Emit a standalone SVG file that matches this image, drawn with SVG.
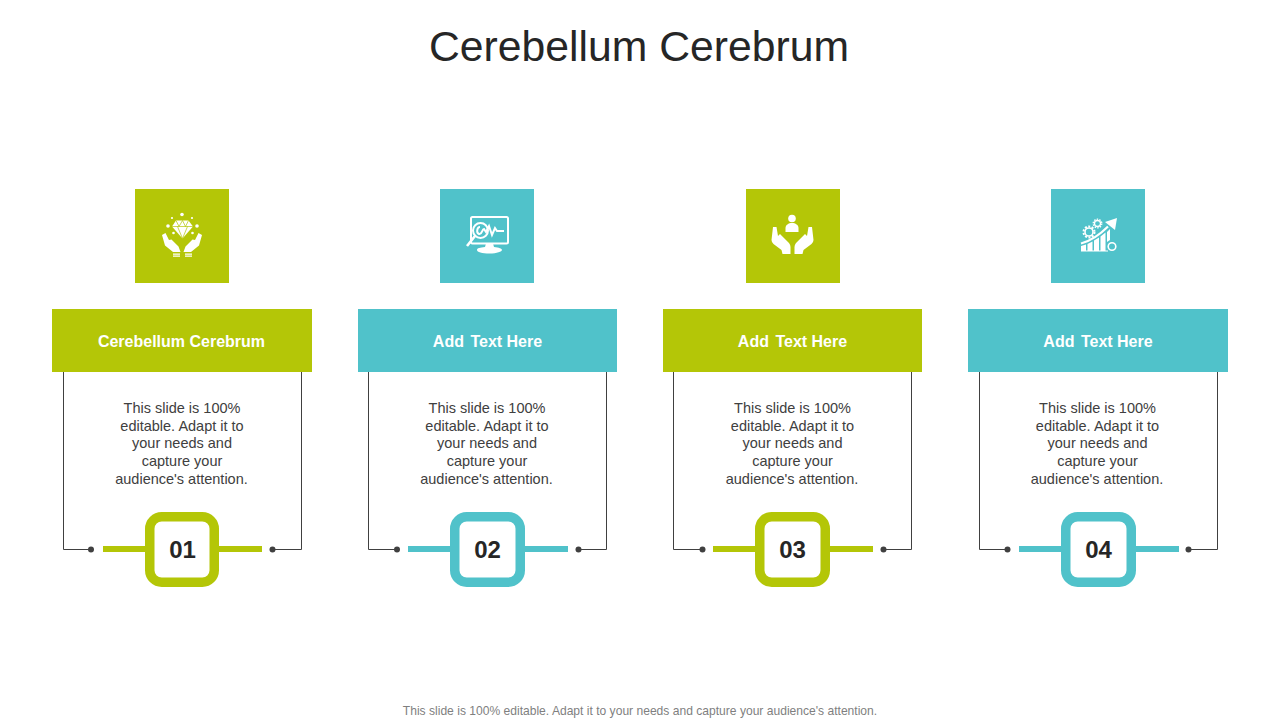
<svg xmlns="http://www.w3.org/2000/svg" width="1280" height="720" viewBox="0 0 1280 720">
<style>
text{font-family:"Liberation Sans",Arial,sans-serif;text-anchor:middle}
.title{font-size:42.7px;fill:#262626}
.head{font-size:16px;font-weight:700;fill:#fff}
.body{font-size:14.5px;fill:#404040}
.num{font-size:24px;font-weight:700;fill:#262626}
.foot{font-size:12.08px;fill:#7f7f7f}
.g{fill:#b4c607}.t{fill:#50c2ca}
.gs{stroke:#b4c607}.ts{stroke:#50c2ca}
.bar{stroke-width:6;fill:none}
.wire{stroke:#404040;stroke-width:1;fill:none}
.dot{fill:#404040}
.ic{fill:#fff;stroke:none}
.il{fill:none;stroke:#fff;stroke-width:2}
.ring{fill:#fff;stroke-width:9.500}
</style>
<rect width="1280" height="720" fill="#fff"/>
<text class="title" x="639" y="61">Cerebellum Cerebrum</text>
<g id="connectors">
<path class="wire" d="M63.500 372V549.500H91M301.500 372V549.500H272"/><circle class="dot" cx="91" cy="549.500" r="3"/><circle class="dot" cx="272.500" cy="549.500" r="3"/>
<path class="wire" d="M368.500 372V549.500H397M606.500 372V549.500H578"/><circle class="dot" cx="397" cy="549.500" r="3"/><circle class="dot" cx="578.500" cy="549.500" r="3"/>
<path class="wire" d="M673.500 372V549.500H702M911.500 372V549.500H883"/><circle class="dot" cx="702.500" cy="549.500" r="3"/><circle class="dot" cx="883.500" cy="549.500" r="3"/>
<path class="wire" d="M979.500 372V549.500H1007M1217.500 372V549.500H1188"/><circle class="dot" cx="1007.500" cy="549.500" r="3"/><circle class="dot" cx="1188.500" cy="549.500" r="3"/>
<path class="bar gs" d="M103 549H146M218 549H262"/>
<path class="bar ts" d="M408 549H451M525 549H568"/>
<path class="bar gs" d="M713 549H756M830 549H873"/>
<path class="bar ts" d="M1019 549H1062M1135 549H1179"/>
</g>
<g id="node-1">
<rect class="g" x="135" y="189" width="94" height="94"/>
<g id="icon-diamond">
<path class="ic" d="M176 220.500h12.500l4.500 6-10.500 12-10.500-12z"/>
<path d="M172 226.500h21M177.500 226.500l5 12 5-12M176 220.500l3 6 3.500-6 3 6 3-6" fill="none" stroke="#b4c607" stroke-width=".7"/>
<circle class="ic" cx="182" cy="214.500" r="1.800"/><circle class="ic" cx="172" cy="218" r="1.100"/><circle class="ic" cx="192" cy="218" r="1.100"/><circle class="ic" cx="168" cy="226" r="1.800"/><circle class="ic" cx="197" cy="226" r="1.800"/>
<circle class="ic" cx="173.500" cy="233" r="1.300"/><circle class="ic" cx="192.500" cy="233" r="1.300"/>
<path class="ic" d="M162 235l3.500-2 3.500 7 2.500-.5 7 7 2 5.500h-7.500l-8-6.500z"/>
<path class="ic" d="M202 235l-3.500-2-3.500 7-2.500-.5-7 7-2 5.500h7.500l8-6.500z"/>
<path class="ic" d="M173 253.500h7v1.200h-7zM173 255.500h7v1.200h-7zM185 253.500h7v1.200h-7zM185 255.500h7v1.200h-7z"/>
</g>
<rect class="g" x="52" y="309" width="260" height="63"/>
<text class="head" x="181.500" y="346.500">Cerebellum Cerebrum</text>
<text class="body"><tspan x="182" y="413">This slide is 100%</tspan><tspan x="182" y="431">editable. Adapt it to</tspan><tspan x="182" y="448">your needs and</tspan><tspan x="182" y="466">capture your</tspan><tspan x="181.500" y="484">audience's attention.</tspan></text>
<rect class="ring gs" x="149.750" y="516.750" width="64.500" height="65.500" rx="12"/>
<text class="num" x="182.500" y="558">01</text>
</g>
<g id="node-2">
<rect class="t" x="440" y="189" width="94" height="94"/>
<g id="icon-monitor">
<rect class="il" x="471" y="217" width="37" height="26.500" rx="1.500"/>
<path class="ic" d="M486 243.500h7l1 3.500c5 .5 8 1.500 8 3s-5 3.500-12.500 3.500S477 252 477 250s3-2.500 8-3z"/>
<circle cx="480.500" cy="230.500" r="7.500" fill="#50c2ca" stroke="#fff" stroke-width="2"/>
<path d="M475 236l-8 10" stroke="#fff" stroke-width="2.600" fill="none"/>
<path class="il" d="M480 227c-3 0-4 6-1 7s3-5 5-5l2 3 3-6 3 9 3-7 2 3h7" stroke-width="1.400"/>
</g>
<rect class="t" x="358" y="309" width="259" height="63"/>
<text class="head" x="487.500" y="346.500">Add<tspan dx="2"> Text Here</tspan></text>
<text class="body"><tspan x="487" y="413">This slide is 100%</tspan><tspan x="487" y="431">editable. Adapt it to</tspan><tspan x="487" y="448">your needs and</tspan><tspan x="487" y="466">capture your</tspan><tspan x="486.500" y="484">audience's attention.</tspan></text>
<rect class="ring ts" x="454.750" y="516.750" width="65.500" height="65.500" rx="12"/>
<text class="num" x="487.500" y="558">02</text>
</g>
<g id="node-3">
<rect class="g" x="746" y="189" width="94" height="94"/>
<g id="icon-care">
<circle class="ic" cx="792" cy="218.500" r="3.800"/>
<path class="ic" d="M785.500 232v-4c0-3 3-5 6.500-5s6.500 2 6.500 5v4z"/>
<path class="ic" d="M773 227h3.500l1.500 9 2-2 9 9q1.500 2 1.500 4v7h-8l-1-4-8-6q-2-2-2-4z"/>
<path class="ic" d="M812 227h-3.500l-1.500 9-2-2-9 9q-1.500 2-1.500 4v7h8l1-4 8-6q2-2 2-4z"/>
</g>
<rect class="g" x="663" y="309" width="259" height="63"/>
<text class="head" x="792.500" y="346.500">Add<tspan dx="2"> Text Here</tspan></text>
<text class="body"><tspan x="792.500" y="413">This slide is 100%</tspan><tspan x="792.500" y="431">editable. Adapt it to</tspan><tspan x="792.500" y="448">your needs and</tspan><tspan x="792.500" y="466">capture your</tspan><tspan x="792" y="484">audience's attention.</tspan></text>
<rect class="ring gs" x="759.750" y="516.750" width="65.500" height="65.500" rx="12"/>
<text class="num" x="792.500" y="558">03</text>
</g>
<g id="node-4">
<rect class="t" x="1051" y="189" width="94" height="94"/>
<g id="icon-growth">
<path d="M1081 243.500c11-3 20-10 27-17" stroke="#fff" stroke-width="2.200" fill="none"/>
<path class="ic" d="M1105 222l12-4-2 12z"/>
<path class="ic" d="M1081 246l5-1.500v6.500h-5zM1087.500 244l5-2.500v9.500h-5zM1094 240.500l5-3v13.500h-5zM1100.500 236.500l5-4v18.500h-5zM1081 250.500h27v1h-27z"/>
<circle cx="1089" cy="232" r="4" fill="none" stroke="#fff" stroke-width="1.600"/>
<circle cx="1089" cy="232" r="5.500" fill="none" stroke="#fff" stroke-width="2" stroke-dasharray="2 1.500"/>
<circle cx="1097.500" cy="223.500" r="3" fill="none" stroke="#fff" stroke-width="1.300"/>
<circle cx="1097.500" cy="223.500" r="4.300" fill="none" stroke="#fff" stroke-width="1.300" stroke-dasharray="1.500 1.200"/>
<circle cx="1112" cy="246.500" r="3.800" fill="#50c2ca" stroke="#fff" stroke-width="1.600"/>
<path class="ic" d="M1107 232l3-3v11l-3 2z"/>
</g>
<rect class="t" x="968" y="309" width="260" height="63"/>
<text class="head" x="1098" y="346.500">Add<tspan dx="2"> Text Here</tspan></text>
<text class="body"><tspan x="1097.500" y="413">This slide is 100%</tspan><tspan x="1097.500" y="431">editable. Adapt it to</tspan><tspan x="1097.500" y="448">your needs and</tspan><tspan x="1097.500" y="466">capture your</tspan><tspan x="1097" y="484">audience's attention.</tspan></text>
<rect class="ring ts" x="1065.750" y="516.750" width="65.500" height="65.500" rx="12"/>
<text class="num" x="1098.500" y="558">04</text>
</g>
<text class="foot" x="640" y="715">This slide is 100% editable. Adapt it to your needs and capture your audience's attention.</text>
</svg>
